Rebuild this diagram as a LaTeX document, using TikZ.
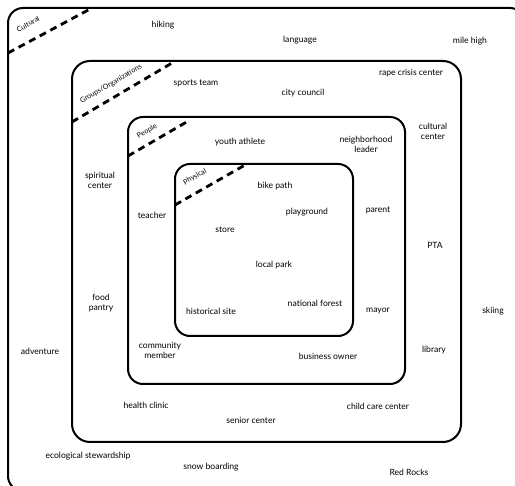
\documentclass[tikz,border=0pt]{standalone}
\usepackage{fontspec}
\setmainfont{Lato}

\begin{document}
\begin{tikzpicture}[x=1pt, y=-1pt,
    frame/.style={line width=2pt, rounded corners=15pt},
    divider/.style={line width=2.8pt, dash pattern=on 7pt off 5pt},
    item/.style={font=\fontsize{8.6}{10}\selectfont, align=center, inner sep=0pt},
    ring/.style={font=\fontsize{7.2}{8}\selectfont, inner sep=0pt}]
    \useasboundingbox (0,0) rectangle (515,486);
    \clip (0,0) rectangle (515,486);

    % the four levels
    \draw[frame] (8,8) rectangle (525,491);
    \draw[frame, rounded corners=18pt] (72,61) rectangle (461,442);
    \draw[frame] (128,117) rectangle (405,384);
    \draw[frame] (175,164) rectangle (353,336);

    % corner labels
    \draw[divider] (8,53) -- (92,8);
    \draw[divider] (72,122) -- (172,63);
    \draw[divider] (128,156) -- (190,120);
    \draw[divider] (175,205) -- (245,165);
    \node[ring, rotate=29] (cultural) at (28,24) {Cultural};
    \node[ring, rotate=30] (groups) at (111,84) {Groups/Organizations};
    \node[ring, rotate=30] (people) at (147,131) {People};
    \node[ring, rotate=30] (physical) at (195,177) {Physical};

    % cultural
    \node[item] (hiking) at (163,25) {hiking};
    \node[item] (language) at (300,40) {language};
    \node[item] (milehigh) at (470,41) {mile high};
    \node[item] (skiing) at (493,311) {skiing};
    \node[item] (adventure) at (40,351) {adventure};
    \node[item] (ecology) at (88,456) {ecological stewardship};
    \node[item] (snowboard) at (211,467) {snow boarding};
    \node[item] (redrocks) at (409,472) {Red Rocks};

    % groups/organizations
    \node[item] (sports) at (196,83) {sports team};
    \node[item] (council) at (303,93) {city council};
    \node[item] (rape) at (411,73) {rape crisis center};
    \node[item] (culturalctr) at (433,131) {cultural\\center};
    \node[item] (spiritual) at (100,180) {spiritual\\center};
    \node[item] (pta) at (435,245) {PTA};
    \node[item] (pantry) at (101,303) {food\\pantry};
    \node[item] (library) at (434,350) {library};
    \node[item] (clinic) at (146,405) {health clinic};
    \node[item] (childcare) at (378,406) {child care center};
    \node[item] (senior) at (251,420) {senior center};

    % people
    \node[item] (athlete) at (240,142) {youth athlete};
    \node[item] (leader) at (366,144) {neighborhood\\leader};
    \node[item] (parent) at (378,210) {parent};
    \node[item] (teacher) at (152,215) {teacher};
    \node[item] (mayor) at (378,311) {mayor};
    \node[item] (member) at (160,350) {community\\member};
    \node[item] (business) at (328,356) {business owner};

    % physical
    \node[item] (bike) at (275,186) {bike path};
    \node[item] (playground) at (307,212) {playground};
    \node[item] (store) at (225,230) {store};
    \node[item] (park) at (274,265) {local park};
    \node[item] (forest) at (315,303) {national forest};
    \node[item] (historic) at (211,311) {historical site};
\end{tikzpicture}
\end{document}
